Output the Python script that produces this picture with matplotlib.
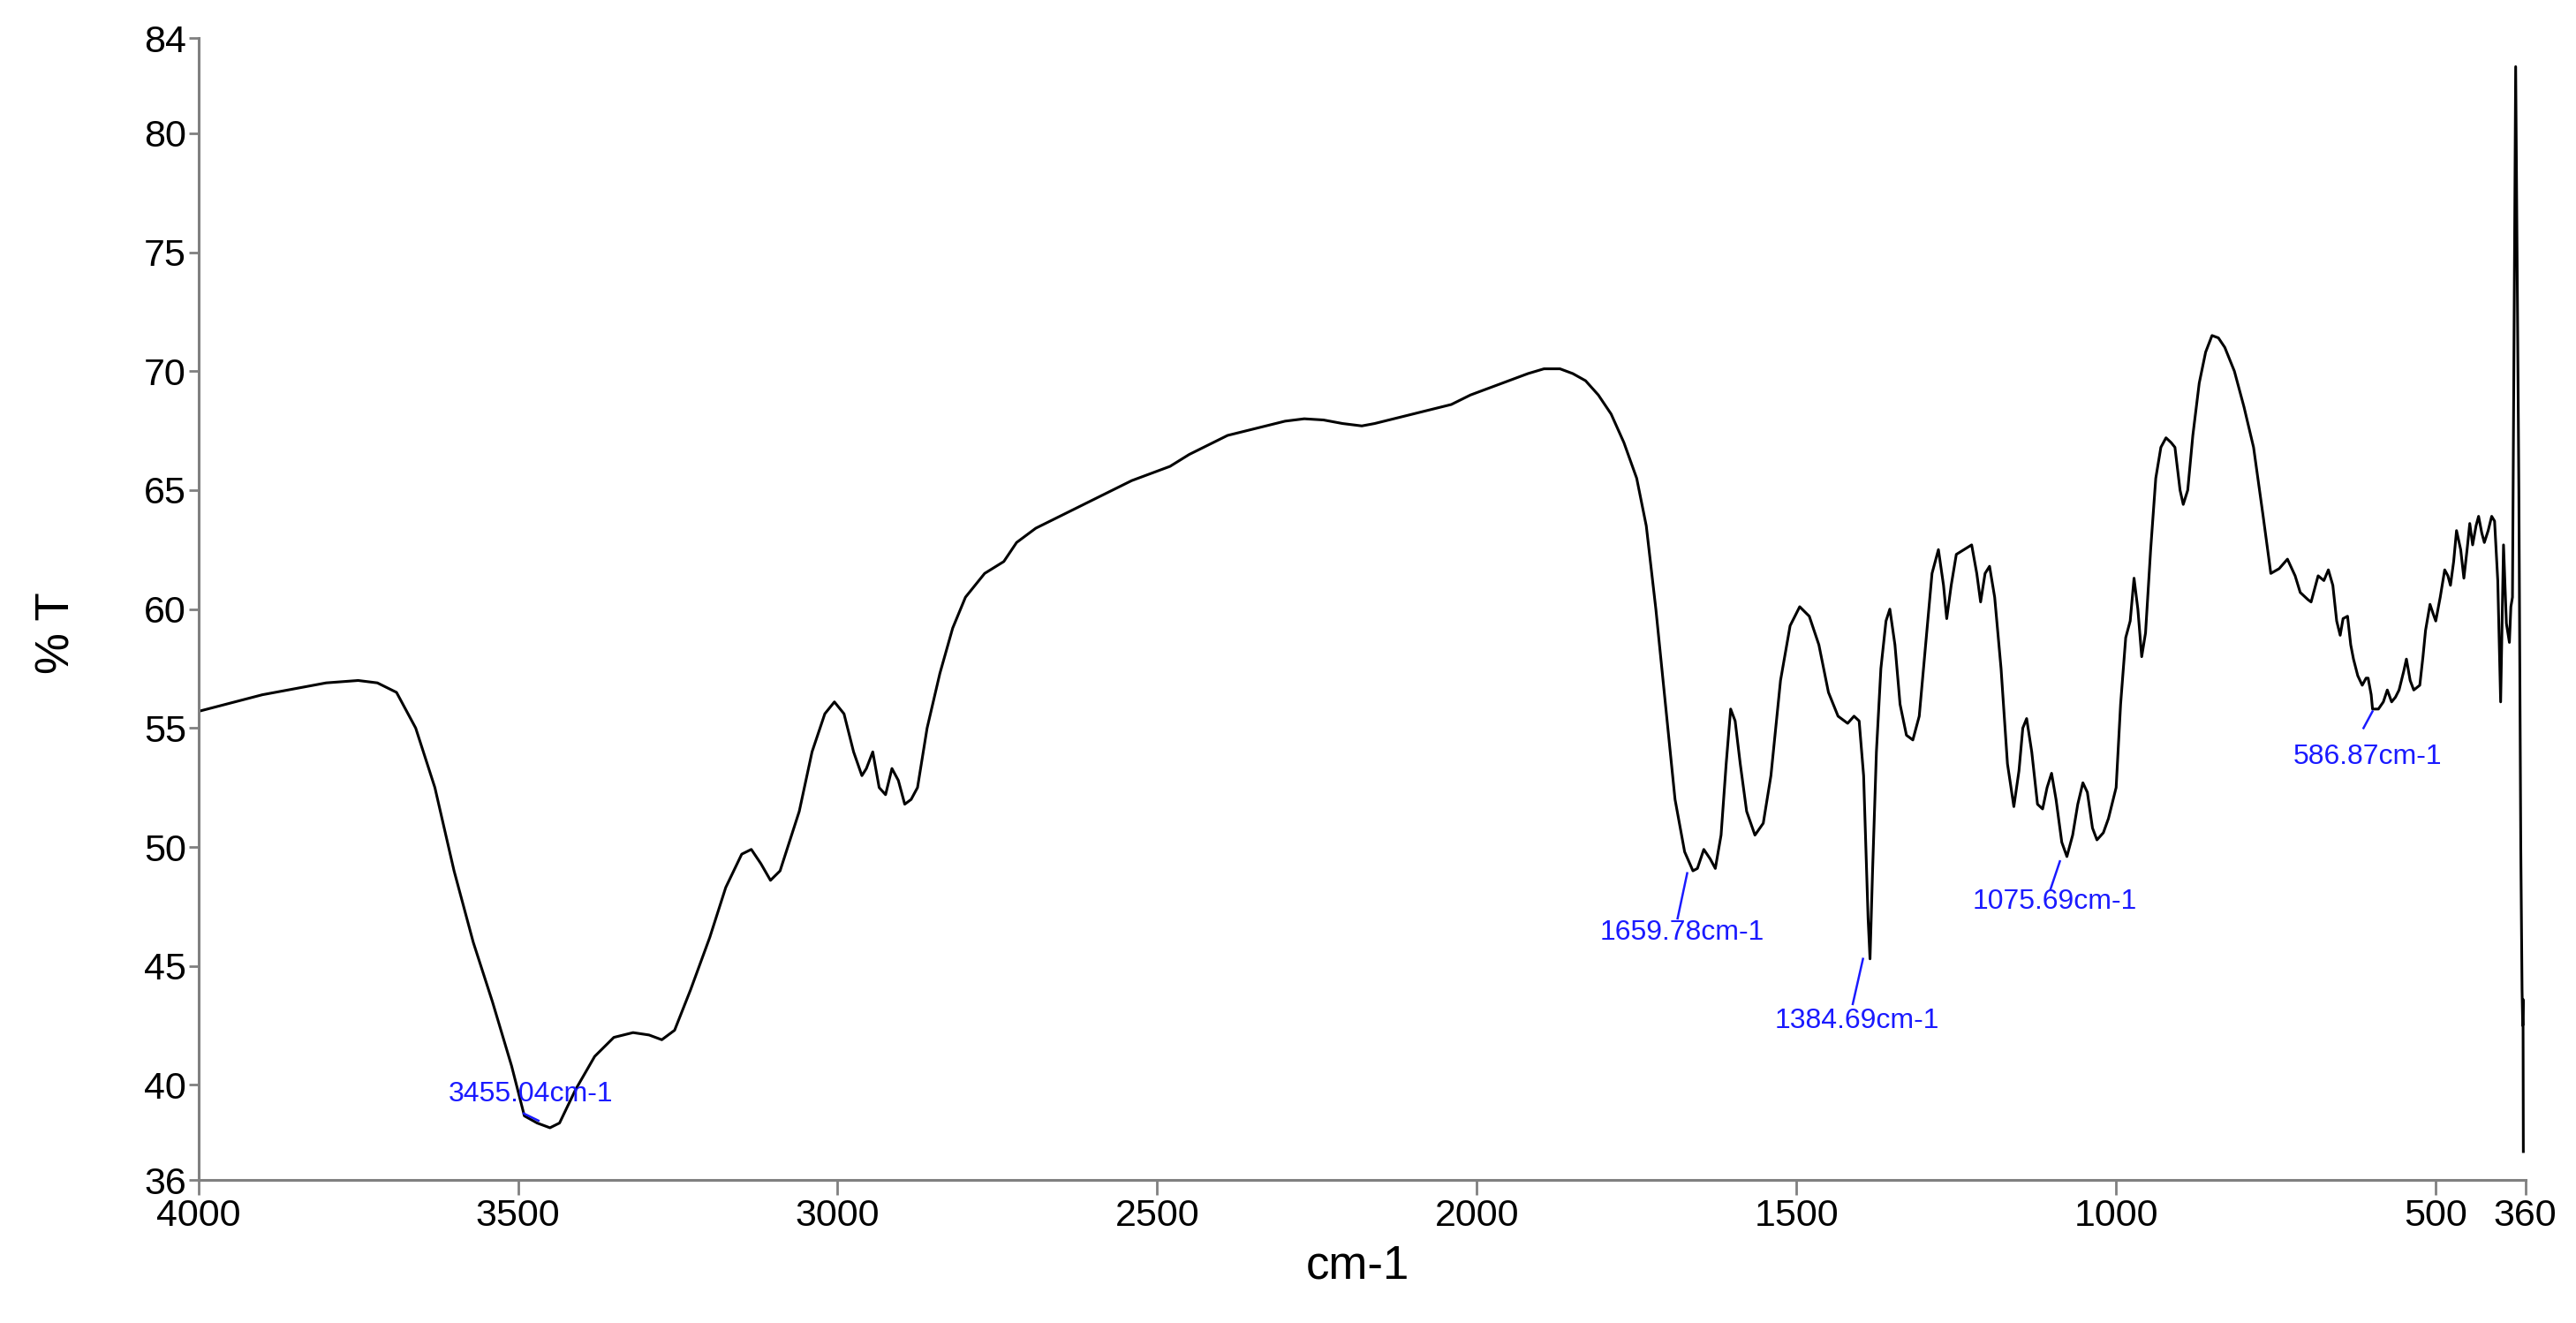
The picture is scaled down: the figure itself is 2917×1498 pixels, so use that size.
import matplotlib
matplotlib.use("Agg")
import matplotlib.pyplot as plt

plt.rcParams['font.family'] = ['Liberation Sans', 'DejaVu Sans']

# espectro IR (número de onda, %T)
wavenumber = [
    4000, 3900, 3800, 3750, 3720, 3690, 3660, 3630, 3600, 3570, 3540, 3510, 3490, 3470, 3450,
    3435, 3410, 3380, 3350, 3320, 3295, 3275, 3255, 3230, 3200, 3175, 3150, 3135, 3120, 3105,
    3090, 3060, 3040, 3020, 3005, 2990, 2975, 2962, 2955, 2945, 2935, 2925, 2915, 2905, 2895,
    2885, 2875, 2860, 2840, 2820, 2800, 2770, 2740, 2720, 2690, 2660, 2630, 2600, 2570, 2540,
    2510, 2480, 2450, 2420, 2390, 2360, 2330, 2300, 2270, 2240, 2210, 2180, 2160, 2130, 2100,
    2070, 2040, 2010, 1980, 1950, 1920, 1895, 1870, 1850, 1830, 1810, 1790, 1770, 1750, 1735,
    1720, 1705, 1690, 1675, 1662, 1655, 1645, 1635, 1627, 1618, 1610, 1603, 1596, 1588, 1578,
    1565, 1552, 1540, 1525, 1510, 1495, 1480, 1465, 1450, 1435, 1420, 1410, 1402, 1395, 1388,
    1385, 1381, 1375, 1368, 1360, 1354, 1346, 1338, 1328, 1318, 1308, 1298, 1288, 1278, 1270,
    1265, 1258, 1250, 1238, 1226, 1218, 1212, 1205, 1198, 1190, 1180, 1170, 1160, 1152, 1146,
    1140, 1132, 1123, 1115, 1108, 1101, 1094, 1085, 1077, 1068, 1060, 1052, 1045, 1037, 1030,
    1020, 1012, 1000, 993, 985, 978, 972, 966, 960, 954, 946, 938, 930, 922, 914,
    908, 900, 895, 888, 880, 870, 860, 850, 840, 830, 815, 800, 785, 770, 758,
    745, 732, 720, 712, 700, 695, 684, 675, 668, 661, 655, 649.5, 645, 638, 633,
    628.7, 622, 615, 609, 605.8, 601, 598.9, 589.7, 582, 575.8, 569, 563, 557.4, 550, 545.9,
    540, 534.4, 525, 520, 516, 509, 504, 500, 493, 486, 481, 477, 472, 467.5, 461,
    456, 451, 446.8, 442.3, 437, 433, 428, 424, 418, 412.5, 408, 403, 398.5, 394, 389.5,
    384.8, 382.5, 380, 375, 370, 367, 365, 364, 363.5, 363,
]
transmittance = [
    55.7, 56.4, 56.9, 57.0, 56.9, 56.5, 55.0, 52.5, 49.0, 46.0, 43.5, 40.8, 38.7, 38.4, 38.2,
    38.4, 39.8, 41.2, 42.0, 42.2, 42.1, 41.9, 42.3, 44.0, 46.2, 48.3, 49.7, 49.9, 49.3, 48.6,
    49.0, 51.5, 54.0, 55.6, 56.1, 55.6, 54.0, 53.0, 53.3, 54.0, 52.5, 52.2, 53.3, 52.8, 51.8,
    52.0, 52.5, 55.0, 57.3, 59.2, 60.5, 61.5, 62.0, 62.8, 63.4, 63.8, 64.2, 64.6, 65.0, 65.4,
    65.7, 66.0, 66.5, 66.9, 67.3, 67.5, 67.7, 67.9, 68.0, 67.95, 67.8, 67.7, 67.8, 68.0, 68.2,
    68.4, 68.6, 69.0, 69.3, 69.6, 69.9, 70.1, 70.1, 69.9, 69.6, 69.0, 68.2, 67.0, 65.5, 63.5,
    60.0, 56.0, 52.0, 49.8, 49.0, 49.1, 49.9, 49.5, 49.1, 50.5, 53.5, 55.8, 55.3, 53.5, 51.5,
    50.5, 51.0, 53.0, 57.0, 59.3, 60.1, 59.7, 58.5, 56.5, 55.5, 55.2, 55.5, 55.3, 53.0, 47.0,
    45.3, 49.0, 54.0, 57.5, 59.5, 60.0, 58.5, 56.0, 54.7, 54.5, 55.5, 58.5, 61.5, 62.5, 61.0,
    59.6, 61.0, 62.3, 62.5, 62.7, 61.5, 60.3, 61.5, 61.8, 60.5, 57.5, 53.5, 51.7, 53.2, 55.0,
    55.4, 54.0, 51.8, 51.6, 52.5, 53.1, 52.0, 50.2, 49.6, 50.5, 51.8, 52.7, 52.3, 50.8, 50.3,
    50.6, 51.2, 52.5, 56.0, 58.8, 59.5, 61.3, 60.0, 58.0, 59.0, 62.5, 65.5, 66.8, 67.2, 67.0,
    66.8, 65.0, 64.4, 65.0, 67.3, 69.5, 70.8, 71.5, 71.4, 71.0, 70.0, 68.5, 66.8, 63.9, 61.5,
    61.7, 62.1, 61.4, 60.7, 60.4, 60.3, 61.4, 61.2, 61.65, 61.0, 59.5, 58.9, 59.6, 59.7, 58.5,
    57.9, 57.2, 56.8, 57.1, 57.1, 56.4, 55.8, 55.8, 56.1, 56.6, 56.1, 56.3, 56.6, 57.4, 57.9,
    57.0, 56.6, 56.8, 58.0, 59.1, 60.2, 59.8, 59.5, 60.5, 61.65, 61.4, 61.0, 62.0, 63.3, 62.5,
    61.3, 62.5, 63.6, 62.7, 63.5, 63.9, 63.2, 62.8, 63.3, 63.9, 63.7, 61.2, 56.1, 62.7, 59.4,
    58.6, 60.1, 60.5, 82.8, 65.0, 50.0, 44.0, 42.5, 43.6, 37.2,
]

peak_labels = ["3455.04cm-1", "1659.78cm-1", "1384.69cm-1", "1075.69cm-1", "586.87cm-1"]
xticks = [4000, 3500, 3000, 2500, 2000, 1500, 1000, 500, 360]
yticks = [36, 40, 45, 50, 55, 60, 65, 70, 75, 80, 84]

# posición de cada etiqueta y de su línea guía (x0, y0, x1, y1)
label_pos = [(3480, 39.6), (1679, 46.4), (1405, 42.7), (1096, 47.7), (607, 53.8)]
leader = [(3491, 38.8, 3468, 38.5), (1671, 48.9, 1686, 47.0), (1396, 45.3, 1412, 43.4),
          (1088, 49.4, 1103, 48.2), (599, 55.7, 613, 55.0)]

fig = plt.figure(figsize=(29.17, 14.98), dpi=100)
ax = fig.add_axes([0.077, 0.108, 0.9033, 0.8632])

ax.plot(wavenumber, transmittance, color='black', lw=2.2)

for txt, (lx, ly), (x0, y0, x1, y1) in zip(peak_labels, label_pos, leader):
    ax.plot([x0, x1], [y0, y1], color='#1a1aff', lw=1.8)
    ax.text(lx, ly, txt, color='#1a1aff', fontsize=23, ha='center', va='center')

ax.set_xlim(4000, 360)
ax.set_ylim(36, 84)
ax.set_xticks(xticks)
ax.set_xticklabels([str(t) for t in xticks])
ax.set_yticks(yticks)
ax.set_yticklabels([str(t) for t in yticks])

for s in ['top', 'right']:
    ax.spines[s].set_visible(False)
for s in ['left', 'bottom']:
    ax.spines[s].set_color('#808080')
    ax.spines[s].set_linewidth(2.2)

ax.tick_params(axis='x', length=12, width=2, color='#808080', labelsize=31, pad=3)
ax.tick_params(axis='y', length=8, width=2, color='#808080', labelsize=31, pad=2)

ax.set_xlabel("cm-1", fontsize=38)
ax.xaxis.set_label_coords(0.4984, -0.075)
ax.xaxis.label.set_va('center')
ax.set_ylabel("% T", fontsize=38)
ax.yaxis.set_label_coords(-0.0606, 0.4795)
ax.yaxis.label.set_va('center')

fig.savefig("out.png", dpi=100)
